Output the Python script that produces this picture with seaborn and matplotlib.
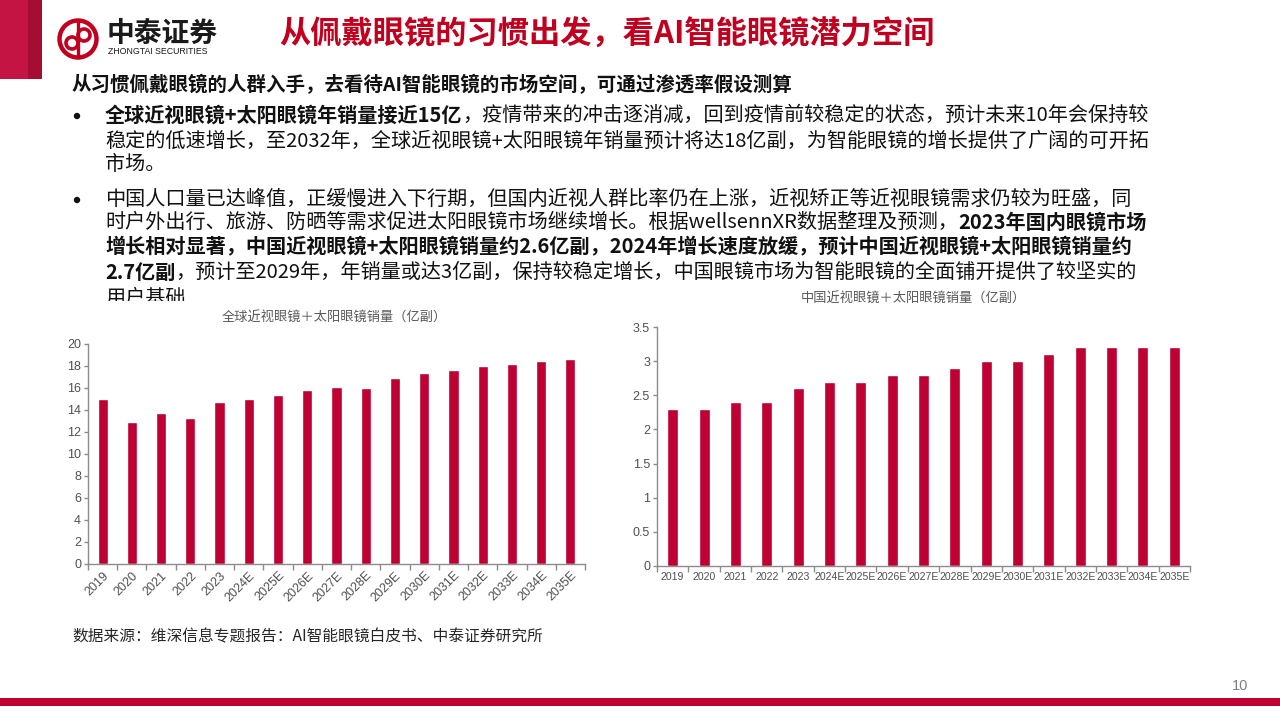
import numpy as np
import matplotlib
matplotlib.use("Agg")
import matplotlib.pyplot as plt
from matplotlib.patches import Rectangle, Circle
import seaborn as sns

# chart data
years = ['2019', '2020', '2021', '2022', '2023', '2024E', '2025E', '2026E', '2027E',
         '2028E', '2029E', '2030E', '2031E', '2032E', '2033E', '2034E', '2035E']
global_sales = [15.0, 12.9, 13.7, 13.3, 14.7, 15.0, 15.4, 15.8, 16.1,
                16.0, 16.9, 17.4, 17.6, 18.0, 18.2, 18.5, 18.6]
china_sales = [2.3, 2.3, 2.4, 2.4, 2.6, 2.7, 2.7, 2.8, 2.8,
               2.9, 3.0, 3.0, 3.1, 3.2, 3.2, 3.2, 3.2]

title_global = '全球近视眼镜＋太阳眼镜销量（亿副）'
title_china = '中国近视眼镜＋太阳眼镜销量（亿副）'
page_title = '从佩戴眼镜的习惯出发，看AI智能眼镜潜力空间'
lead_line = '从习惯佩戴眼镜的人群入手，去看待AI智能眼镜的市场空间，可通过渗透率假设测算'
source_note = '数据来源：维深信息专题报告：AI智能眼镜白皮书、中泰证券研究所'

# (text, bold) segments per line
bullet1 = [
    [('全球近视眼镜+太阳眼镜年销量接近15亿', True),
     ('，疫情带来的冲击逐消减，回到疫情前较稳定的状态，预计未来10年会保持较', False)],
    [('稳定的低速增长，至2032年，全球近视眼镜+太阳眼镜年销量预计将达18亿副，为智能眼镜的增长提供了广阔的可开拓', False)],
    [('市场。', False)],
]
bullet2 = [
    [('中国人口量已达峰值，正缓慢进入下行期，但国内近视人群比率仍在上涨，近视矫正等近视眼镜需求仍较为旺盛，同', False)],
    [('时户外出行、旅游、防晒等需求促进太阳眼镜市场继续增长。根据wellsennXR数据整理及预测，', False),
     ('2023年国内眼镜市场', True)],
    [('增长相对显著，中国近视眼镜+太阳眼镜销量约2.6亿副，2024年增长速度放缓，预计中国近视眼镜+太阳眼镜销量约', True)],
    [('2.7亿副', True),
     ('，预计至2029年，年销量或达3亿副，保持较稳定增长，中国眼镜市场为智能眼镜的全面铺开提供了较坚实的', False)],
    [('用户基础', False)],
]

RED = '#BE0032'
TITLE_RED = '#C0001E'
GREY = '#7F7F7F'
TEXT = '#111111'
AXIS = '#8C8C8C'
LABEL = '#505050'

sns.set_theme(style='white')
plt.rcParams['font.family'] = ['Noto Sans CJK SC', 'DejaVu Sans']

W, H = 1280, 720
fig = plt.figure(figsize=(12.8, 7.2), dpi=100)
bg = fig.add_axes([0, 0, 1, 1])
bg.set_xlim(0, W)
bg.set_ylim(H, 0)
bg.axis('off')


def fig_rect(x0, y0, x1, y1):
    return [x0 / W, 1 - y1 / H, (x1 - x0) / W, (y1 - y0) / H]


# header band and logo
bg.add_patch(Rectangle((0, 0), 28, 79, color='#C41443', lw=0))
bg.add_patch(Rectangle((28, 0), 14, 79, color='#A50D32', lw=0))
bg.add_patch(Circle((78, 39), 18.5, fill=False, ec=TITLE_RED, lw=3.2))
bg.add_patch(Circle((72, 43), 6, fill=False, ec=TITLE_RED, lw=2.6))
bg.add_patch(Circle((84, 35), 6, fill=False, ec=TITLE_RED, lw=2.6))
bg.plot([78, 78], [21, 57], color=TITLE_RED, lw=2.4)
bg.text(107, 34, '中泰证券', fontsize=20, fontweight='bold', color='#1a1a1a', va='center', ha='left')
bg.text(108, 52, 'ZHONGTAI SECURITIES', fontsize=6.3, color='#1a1a1a', va='center', ha='left',
        family=['Liberation Sans', 'DejaVu Sans'])
bg.text(279, 35, page_title, fontsize=22.5, fontweight='bold', color=TITLE_RED, va='center', ha='left')


def text_line(segs, x, y, size=14.5):
    s, b = segs[0]
    prev = bg.text(x, y, s, fontsize=size, fontweight='bold' if b else 'normal',
                   color=TEXT, va='center', ha='left')
    for s, b in segs[1:]:
        prev = bg.annotate(s, xy=(1, 0), xycoords=prev, va='bottom', ha='left',
                           fontsize=size, fontweight='bold' if b else 'normal', color=TEXT)
    return prev


text_line([(lead_line, True)], 72, 85, size=14)

bullet1_y = [115, 141, 164]
bullet2_y = [199, 222, 247, 272, 298]
for ys, lines in ((bullet1_y, bullet1), (bullet2_y, bullet2)):
    bg.add_patch(Circle((77, ys[0] + 1), 3.2, color=TEXT, lw=0))
    for yy, segs in zip(ys, lines):
        text_line(segs, 105, yy)

# the last text line is cut off by the chart area in the reference
bg.add_patch(Rectangle((60, 301), 1220, 30, color='white', lw=0, zorder=5))

bg.text(72, 637, source_note, fontsize=11.3, color='#262626', va='center', ha='left')
bg.add_patch(Rectangle((0, 698), W, 8, color=RED, lw=0))
bg.text(1240, 686, '10', fontsize=10.5, color=GREY, va='center', ha='center',
        family=['Liberation Sans', 'DejaVu Sans'])


def bar_chart(ax, vals, ymax, step, rotate, xsize, title, title_xy):
    sns.barplot(x=years, y=vals, color=RED, width=0.35, saturation=1, ax=ax)
    ax.set_facecolor('none')
    ax.set_xlim(-0.5, len(years) - 0.5)
    ax.set_ylim(0, ymax)
    ticks = np.arange(0, ymax + step / 2, step)
    ax.set_yticks(ticks)
    ax.set_yticklabels(['{:g}'.format(v) for v in ticks])
    ax.set_xlabel('')
    ax.set_ylabel('')
    for side in ('top', 'right'):
        ax.spines[side].set_visible(False)
    for side in ('left', 'bottom'):
        ax.spines[side].set_color(AXIS)
        ax.spines[side].set_linewidth(1)
    ax.set_xticks(np.arange(-0.5, len(years)), minor=True)
    ax.tick_params(axis='x', which='major', length=0, pad=4, labelsize=xsize, labelcolor=LABEL)
    ax.tick_params(axis='x', which='minor', bottom=True, length=4, width=1, color=AXIS)
    ax.tick_params(axis='y', left=True, length=3, width=1, color=AXIS, labelsize=9,
                   labelcolor=LABEL, pad=2)
    for lab in ax.get_xticklabels() + ax.get_yticklabels():
        lab.set_family(['Liberation Sans', 'DejaVu Sans'])
    if rotate:
        for lab in ax.get_xticklabels():
            lab.set_rotation(45)
            lab.set_ha('right')
            lab.set_rotation_mode('anchor')
    bg.text(title_xy[0], title_xy[1], title, fontsize=9.5, color='#595959',
            va='center', ha='center', zorder=6)


ax1 = fig.add_axes(fig_rect(88, 344, 585, 564))
bar_chart(ax1, global_sales, 20, 2, True, 9, title_global, (334, 318))

ax2 = fig.add_axes(fig_rect(657, 327, 1190, 566))
bar_chart(ax2, china_sales, 3.5, 0.5, False, 7.6, title_china, (913, 299))

fig.savefig('out.png', dpi=100)
